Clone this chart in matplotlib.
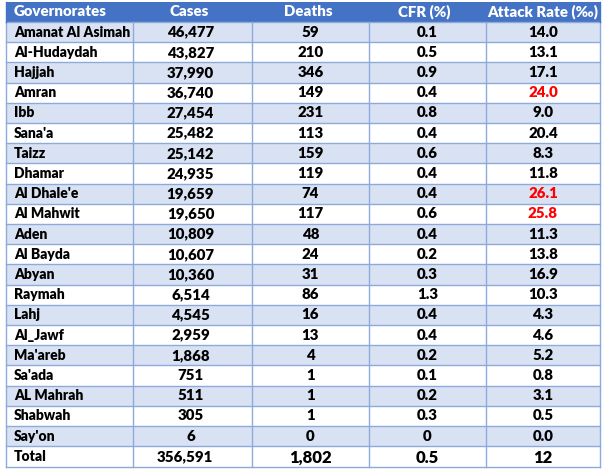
import matplotlib.pyplot as plt
from matplotlib.patches import Rectangle

# table data
columns = ["Governorates", "Cases", "Deaths", "CFR (%)", "Attack Rate (‰)"]
governorates = ["Amanat Al Asimah", "Al-Hudaydah", "Hajjah", "Amran", "Ibb", "Sana'a",
                "Taizz", "Dhamar", "Al Dhale'e", "Al Mahwit", "Aden", "Al Bayda", "Abyan",
                "Raymah", "Lahj", "Al_Jawf", "Ma'areb", "Sa'ada", "AL Mahrah", "Shabwah",
                "Say'on"]
cases = ["46,477", "43,827", "37,990", "36,740", "27,454", "25,482", "25,142", "24,935",
         "19,659", "19,650", "10,809", "10,607", "10,360", "6,514", "4,545", "2,959",
         "1,868", "751", "511", "305", "6"]
deaths = ["59", "210", "346", "149", "231", "113", "159", "119", "74", "117", "48", "24",
          "31", "86", "16", "13", "4", "1", "1", "1", "0"]
cfr = ["0.1", "0.5", "0.9", "0.4", "0.8", "0.4", "0.6", "0.4", "0.4", "0.6", "0.4", "0.2",
       "0.3", "1.3", "0.4", "0.4", "0.2", "0.1", "0.2", "0.3", "0"]
attack = ["14.0", "13.1", "17.1", "24.0", "9.0", "20.4", "8.3", "11.8", "26.1", "25.8",
          "11.3", "13.8", "16.9", "10.3", "4.3", "4.6", "5.2", "0.8", "3.1", "0.5", "0.0"]
highlight = ["Amran", "Al Dhale'e", "Al Mahwit"]   # attack rate shown in red
total = ["Total", "356,591", "1,802", "0.5", "12"]

HEADER = "#4472C4"
BAND = "#D9E2F3"
GRID = "#8EAADB"
FONT = ["Lato", "DejaVu Sans"]

fig = plt.figure(figsize=(6.09, 4.75), dpi=100)
ax = fig.add_axes([0, 0, 1, 1])
ax.set_xlim(0, 609)
ax.set_ylim(475, 0)
ax.axis("off")

col_x = [6, 133, 252, 369, 486, 600]
top = 2
head_h = 20
row_h = 20.2
total_h = 21

def cell_text(i, y, s, color="black", size=None, weight="heavy", dx=0):
    if size is None:
        size = 10 if i == 0 else 10.8
    if i == 0:
        ax.text(col_x[0] + 8, y, s, ha="left", va="center", fontsize=size,
                fontweight=weight, color=color, family=FONT)
    else:
        cx = (col_x[i] + col_x[i + 1]) / 2 + dx
        ax.text(cx, y, s, ha="center", va="center", fontsize=size,
                fontweight=weight, color=color, family=FONT)

# header
ax.add_patch(Rectangle((col_x[0], top), col_x[-1] - col_x[0], head_h,
                       facecolor=HEADER, edgecolor="none"))
for i, c in enumerate(columns):
    cell_text(i, top + head_h / 2, c, color="white", size=10.8,
              dx=[0, -3, -2, -3, 0][i])

# body rows
y0 = top + head_h
for r, name in enumerate(governorates):
    y = y0 + r * row_h
    if r % 2 == 0:
        ax.add_patch(Rectangle((col_x[0], y), col_x[-1] - col_x[0], row_h,
                               facecolor=BAND, edgecolor="none"))
    ym = y + row_h / 2
    vals = [name, cases[r], deaths[r], cfr[r], attack[r]]
    for i, v in enumerate(vals):
        color = "#FF0000" if (i == 4 and name in highlight) else "black"
        cell_text(i, ym, v, color=color, dx=-2 if i == 1 else 0)

# total row
yt = y0 + len(governorates) * row_h
for i, v in enumerate(total):
    size = None if i < 2 else 12
    cell_text(i, yt + total_h / 2 + (0 if i < 2 else 1), v, size=size,
              dx=-8 if i == 1 else 0)
bottom = yt + total_h

# grid lines
for k in range(len(governorates) + 1):
    y = y0 + k * row_h
    ax.plot([col_x[0], col_x[-1]], [y, y], color=GRID, lw=1)
ax.plot([col_x[0], col_x[-1]], [bottom, bottom], color=GRID, lw=1)
for x in col_x:
    ax.plot([x, x], [y0, bottom], color=GRID, lw=1)
ax.plot([col_x[0], col_x[0]], [top, y0], color=HEADER, lw=1)
ax.plot([col_x[-1], col_x[-1]], [top, y0], color=HEADER, lw=1)

fig.savefig("out.png", dpi=100)
